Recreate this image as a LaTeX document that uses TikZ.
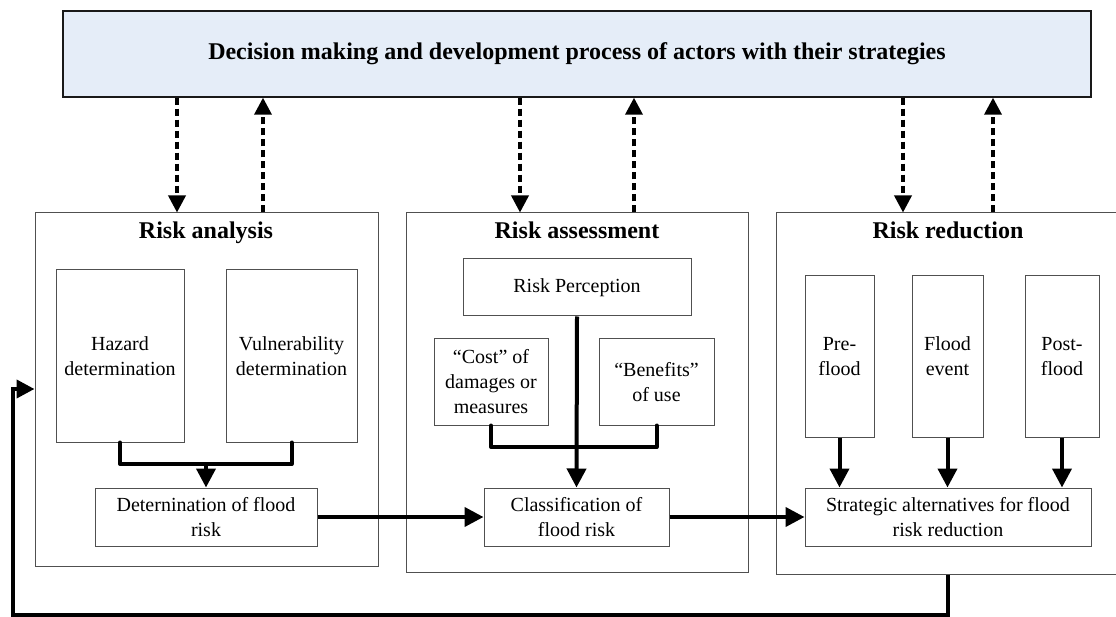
\documentclass[tikz,border=0pt]{standalone}
\usepackage{fontspec}
\setmainfont{Liberation Serif}
\usetikzlibrary{arrows.meta}
\definecolor{bannerfill}{HTML}{E5EDF8}
\definecolor{boxline}{HTML}{505050}
\tikzset{
  box/.style={draw=boxline, line width=1pt, fill=white, inner sep=0pt,
    align=center, font=\fontsize{20}{25}\selectfont},
  frame/.style={draw=boxline, line width=1pt, inner sep=0pt},
  title/.style={inner sep=0pt, anchor=base, font=\bfseries\fontsize{24}{28}\selectfont},
  flow/.style={line width=4pt, line cap=round, line join=round},
  flowarrow/.style={line width=4pt, -{Triangle[width=19pt,length=19pt]}},
  linkdown/.style={line width=3.5pt, dash pattern=on 7pt off 4pt,
    -{Triangle[width=17pt,length=17pt]}},
}
\begin{document}
\begin{tikzpicture}[x=1pt,y=-1pt]
\clip (0,0) rectangle (1116,617);
\fill[white] (0,0) rectangle (1116,617);

% decision banner
\node[draw=black!90, line width=1.4pt, fill=bannerfill, minimum width=1028pt,
  minimum height=86pt, font=\bfseries\fontsize{24}{28}\selectfont]
  (banner) at (577,54) {Decision making and development process of actors with their strategies};

% three phase frames
\node[frame, minimum width=343pt, minimum height=353pt] (ana) at (206.5,389.5) {};
\node[frame, minimum width=342pt, minimum height=359pt] (ass) at (577,392.5) {};
\node[frame, minimum width=360pt, minimum height=361pt] (red) at (956,393.5) {};
\node[title] (anaT) at (206,239) {Risk analysis};
\node[title] (assT) at (577,239) {Risk assessment};
\node[title] (redT) at (948,239) {Risk reduction};

% risk analysis content
\node[box, minimum width=128pt, minimum height=172pt] (haz) at (120,356) {Hazard\\determination};
\node[box, minimum width=131pt, minimum height=172pt] (vul) at (291.5,356) {Vulnerability\\determination};
\node[box, minimum width=222pt, minimum height=58pt] (det) at (206,517) {Deternination of flood\\risk};

% risk assessment content
\node[box, minimum width=228pt, minimum height=57pt] (rp) at (577,287.5) {Risk Perception};
\node[box, minimum width=114pt, minimum height=86pt] (cost) at (491,382) {“Cost” of\\damages or\\measures};
\node[box, minimum width=115pt, minimum height=86pt] (ben) at (656.5,382) {“Benefits”\\of use};
\node[box, minimum width=185pt, minimum height=58pt] (cls) at (576.5,517) {Classification of\\flood risk};

% risk reduction content
\node[box, minimum width=69pt, minimum height=161pt] (pre) at (839.5,356.5) {Pre-\\flood};
\node[box, minimum width=71pt, minimum height=161pt] (fev) at (947.5,356.5) {Flood\\event};
\node[box, minimum width=74pt, minimum height=161pt] (post) at (1062,356.5) {Post-\\flood};
\node[box, minimum width=286pt, minimum height=58pt] (strat) at (948,517) {Strategic alternatives for flood\\risk reduction};

% merging lines
\coordinate (m1) at (206,464);
\coordinate (m2) at (577,447);
\draw[flow] (haz.south) |- (m1) -| (vul.south);
\draw[flowarrow] (m1) -- (det.north);
\draw[flow] (cost.south) |- (m2) -| (ben.south);
\draw[flowarrow] (rp.south) -- (cls.north);

% main flow
\draw[flowarrow] (det.east) -- (cls.west);
\draw[flowarrow] (cls.east) -- (strat.west);
\draw[flowarrow] (pre.south) -- (pre.south |- strat.north);
\draw[flowarrow] (fev.south) -- (fev.south |- strat.north);
\draw[flowarrow] (post.south) -- (post.south |- strat.north);

% feedback loop
\coordinate (fb1) at (13,614.5);
\coordinate (fb2) at (13,389);
\draw[line width=4pt, line join=miter, -{Triangle[width=18pt,length=18pt]}]
  (strat.south |- red.south) |- (fb1) -- (fb2) -- (fb2 -| ana.west);

% links with the decision process
\coordinate (d1) at (177,0);
\coordinate (u1) at (263,0);
\coordinate (d2) at (520,0);
\coordinate (u2) at (634,0);
\coordinate (d3) at (903,0);
\coordinate (u3) at (993,0);
\draw[linkdown] (banner.south -| d1) -- (ana.north -| d1);
\draw[linkdown] (ana.north -| u1) -- (banner.south -| u1);
\draw[linkdown] (banner.south -| d2) -- (ass.north -| d2);
\draw[linkdown] (ass.north -| u2) -- (banner.south -| u2);
\draw[linkdown] (banner.south -| d3) -- (red.north -| d3);
\draw[linkdown] (red.north -| u3) -- (banner.south -| u3);
\end{tikzpicture}
\end{document}
